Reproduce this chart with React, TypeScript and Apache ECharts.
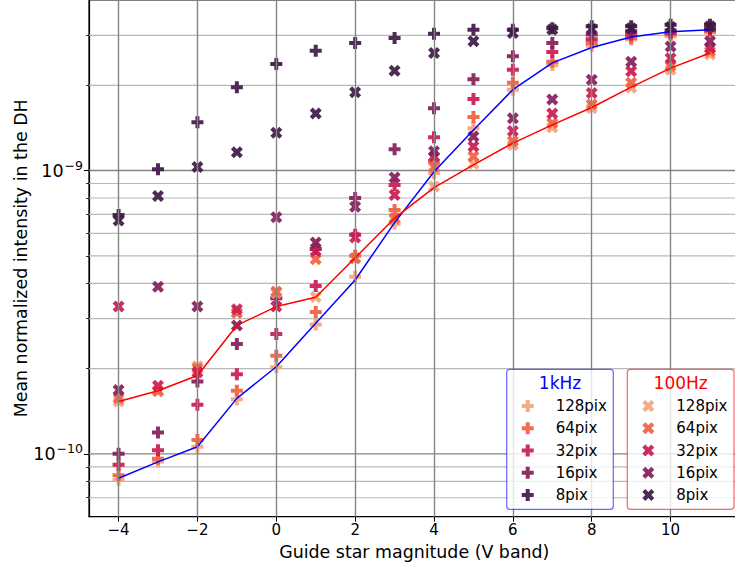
import React, { useEffect, useRef } from 'react';
import * as echarts from 'echarts';

// ---------- data ----------
const magnitudes = [-4, -3, -2, -1, 0, 1, 2, 3, 4, 5, 6, 7, 8, 9, 10, 11];
const pixLabels = ['128pix', '64pix', '32pix', '16pix', '8pix'];
const pixColors = ['#F5A47D', '#EF6142', '#CB1B4F', '#841E5A', '#3D1A45'];

// 1kHz (filled plus markers)
const kHz128 = [8.1e-11, 9.4e-11, 1.06e-10, 1.56e-10, 2.02e-10, 2.86e-10, 4.22e-10, 6.5e-10, 9.8e-10, 1.41e-9, 1.93e-9, 2.36e-9, 2.76e-9, 2.9e-9, 2.98e-9, 3.07e-9];
const kHz64 = [8.4e-11, 9.6e-11, 1.12e-10, 1.67e-10, 2.22e-10, 3.17e-10, 5.0e-10, 7.26e-10, 1.076e-9, 1.545e-9, 2.04e-9, 2.42e-9, 2.82e-9, 2.94e-9, 3.02e-9, 3.1e-9];
const kHz32 = [9.15e-11, 1.03e-10, 1.49e-10, 1.91e-10, 2.65e-10, 3.91e-10, 5.93e-10, 8.9e-10, 1.31e-9, 1.79e-9, 2.27e-9, 2.62e-9, 2.91e-9, 3.02e-9, 3.06e-9, 3.14e-9];
const kHz16 = [1.0e-10, 1.19e-10, 1.8e-10, 2.44e-10, 3.54e-10, 5.29e-10, 8.0e-10, 1.19e-9, 1.66e-9, 2.1e-9, 2.53e-9, 2.82e-9, 3.02e-9, 3.1e-9, 3.12e-9, 3.18e-9];
const kHz8 = [6.97e-10, 1.01e-9, 1.48e-9, 1.97e-9, 2.38e-9, 2.65e-9, 2.82e-9, 2.94e-9, 3.04e-9, 3.14e-9, 3.14e-9, 3.18e-9, 3.23e-9, 3.23e-9, 3.27e-9, 3.27e-9];

// 100Hz (filled x markers)
const hz128 = [1.53e-10, 1.66e-10, 2.04e-10, 3.15e-10, 3.7e-10, 3.58e-10, 4.9e-10, 6.7e-10, 8.78e-10, 1.056e-9, 1.23e-9, 1.42e-9, 1.66e-9, 1.96e-9, 2.27e-9, 2.57e-9];
const hz64 = [1.57e-10, 1.67e-10, 2.0e-10, 3.15e-10, 3.74e-10, 4.86e-10, 4.9e-10, 6.8e-10, 1.03e-9, 1.12e-9, 1.27e-9, 1.47e-9, 1.71e-9, 2.04e-9, 2.34e-9, 2.63e-9];
const hz32 = [3.31e-10, 1.74e-10, 1.94e-10, 3.24e-10, 3.31e-10, 5.2e-10, 5.8e-10, 8.2e-10, 1.12e-9, 1.216e-9, 1.38e-9, 1.59e-9, 1.88e-9, 2.24e-9, 2.49e-9, 2.71e-9];
const hz16 = [1.68e-10, 3.89e-10, 3.31e-10, 2.84e-10, 6.84e-10, 5.57e-10, 7.45e-10, 9.45e-10, 1.17e-9, 1.32e-9, 1.53e-9, 1.78e-9, 2.09e-9, 2.42e-9, 2.74e-9, 2.86e-9];
const hz8 = [6.66e-10, 8.14e-10, 1.03e-9, 1.16e-9, 1.36e-9, 1.59e-9, 1.89e-9, 2.25e-9, 2.6e-9, 2.86e-9, 3.06e-9, 3.15e-9, 3.16e-9, 3.18e-9, 3.21e-9, 3.23e-9];

// mean curves
const kHzCurve = [8.2e-11, 9.37e-11, 1.06e-10, 1.57e-10, 2.03e-10, 2.89e-10, 4.11e-10, 6.55e-10, 9.9e-10, 1.39e-9, 1.93e-9, 2.4e-9, 2.72e-9, 2.96e-9, 3.09e-9, 3.14e-9];
const hzCurve = [1.53e-10, 1.67e-10, 1.89e-10, 2.84e-10, 3.31e-10, 3.57e-10, 4.92e-10, 6.79e-10, 8.71e-10, 1.047e-9, 1.25e-9, 1.45e-9, 1.67e-9, 1.97e-9, 2.3e-9, 2.6e-9];

const xTicks = [-4, -2, 0, 2, 4, 6, 8, 10];
const yMajorTicks = [1e-10, 1e-9];
const yMinorTicks = [7e-11, 8e-11, 9e-11, 2e-10, 3e-10, 4e-10, 5e-10, 6e-10, 7e-10, 8e-10, 9e-10, 2e-9, 3e-9];
const xMin = -4.75;
const xMax = 11.75;
const yMin = 6e-11;
const yMax = 4e-9;

const kHzGroups = [kHz128, kHz64, kHz32, kHz16, kHz8];
const hzGroups = [hz128, hz64, hz32, hz16, hz8];

const PLUS = 'path://M1,0H2V1H3V2H2V3H1V2H0V1H1Z';
const XMARK = 'path://M1,0L2,1L3,0L4,1L3,2L4,3L3,4L2,3L1,4L0,3L1,2L0,1Z';
const FONT = 'DejaVu Sans';

const pairs = (vals: number[]) => magnitudes.map((m, i) => [m, vals[i]]);

export default function App() {
  const ref = useRef<HTMLDivElement>(null);
  useEffect(() => {
    if (!ref.current) return;
    const chart = echarts.init(ref.current, undefined, { renderer: 'svg' });

    const major = { color: '#858585', width: 1.4, type: 'solid' };
    const minor = { color: '#b8b8b8', width: 1.2, type: 'solid' };

    const hLine = (v: number, style: any) => ({
      type: 'line',
      data: [[xMin, v], [xMax, v]],
      symbol: 'none',
      silent: true,
      z: 1,
      lineStyle: style,
      itemStyle: { color: style.color },
      tooltip: { show: false },
    });

    const gridSeries: any[] = [
      ...yMinorTicks.map((v) => hLine(v, minor)),
      ...yMajorTicks.map((v) => hLine(v, major)),
      {
        type: 'line',
        data: [],
        z: 1,
        silent: true,
        markLine: {
          silent: true,
          symbol: ['none', 'none'],
          label: { show: false },
          animation: false,
          data: xTicks.map((v) => ({ xAxis: v, lineStyle: major })),
        },
      },
    ];

    const scatterSeries: any[] = [];
    pixLabels.forEach((p, i) => {
      scatterSeries.push({
        name: '1kHz ' + p,
        type: 'scatter',
        symbol: PLUS,
        symbolSize: 12,
        z: 2,
        itemStyle: { color: pixColors[i], opacity: 0.92 },
        data: pairs(kHzGroups[i]),
      });
    });
    pixLabels.forEach((p, i) => {
      scatterSeries.push({
        name: '100Hz ' + p,
        type: 'scatter',
        symbol: XMARK,
        symbolSize: 12,
        z: 2,
        itemStyle: { color: pixColors[i], opacity: 0.92 },
        data: pairs(hzGroups[i]),
      });
    });

    const lineSeries: any[] = [
      {
        name: '1kHz mean',
        type: 'line',
        data: pairs(kHzCurve),
        symbol: 'none',
        z: 3,
        lineStyle: { color: '#0000ff', width: 1.5 },
        itemStyle: { color: '#0000ff' },
      },
      {
        name: '100Hz mean',
        type: 'line',
        data: pairs(hzCurve),
        symbol: 'none',
        z: 3,
        lineStyle: { color: '#ff0000', width: 1.5 },
        itemStyle: { color: '#ff0000' },
      },
    ];

    const legendText = {
      fontFamily: FONT,
      fontSize: 15,
      color: '#000',
      padding: [0, 0, 0, 17],
    };
    const mkLegend = (prefix: string, icon: string, left: number) => ({
      show: true,
      orient: 'vertical',
      left,
      top: 398.5,
      padding: 0,
      itemWidth: 12,
      itemHeight: 12,
      itemGap: 7.25,
      selectedMode: false,
      z: 10,
      textStyle: legendText,
      formatter: (name: string) => name.split(' ')[1],
      data: pixLabels.map((p) => ({ name: prefix + ' ' + p, icon })),
    });

    chart.setOption({
      animation: false,
      backgroundColor: '#fff',
      textStyle: { fontFamily: FONT },
      grid: {
        left: 89,
        top: 0,
        right: 745 - 739.6,
        bottom: 569 - 516.7,
        containLabel: false,
        outerBoundsMode: 'none',
        show: true,
        borderColor: '#000',
        borderWidth: 1.2,
        backgroundColor: 'transparent',
      },
      xAxis: {
        type: 'value',
        min: xMin,
        max: xMax,
        name: 'Guide star magnitude (V band)',
        nameLocation: 'middle',
        nameGap: 27,
        nameMoveOverlap: false,
        nameTextStyle: { fontFamily: FONT, fontSize: 17.4, color: '#000' },
        axisLine: { show: true, onZero: false, lineStyle: { color: '#000', width: 1.2 } },
        axisTick: { show: true, length: 5, customValues: xTicks, lineStyle: { color: '#000', width: 1 } },
        axisLabel: {
          customValues: xTicks,
          margin: 6,
          fontFamily: FONT,
          fontSize: 15,
          color: '#000',
          formatter: (v: number) => (v < 0 ? '\u2212' + Math.abs(v) : String(v)),
        },
        splitLine: { show: false },
      },
      yAxis: [
        {
          type: 'log',
          logBase: 10,
          min: yMin,
          max: yMax,
          position: 'left',
          name: 'Mean normalized intensity in the DH',
          nameLocation: 'middle',
          nameGap: 60,
          nameMoveOverlap: false,
          nameTextStyle: { fontFamily: FONT, fontSize: 17.4, color: '#000' },
          axisLine: { show: true, onZero: false, lineStyle: { color: '#000', width: 1.2 } },
          axisTick: { show: true, length: 5, customValues: yMajorTicks, lineStyle: { color: '#000', width: 1 } },
          axisLabel: {
            customValues: yMajorTicks,
            margin: 6,
            color: '#000',
            formatter: (v: number) => {
              const e = Math.round(Math.log10(v));
              return '{b|10}{s|\u2212' + Math.abs(e) + '}';
            },
            rich: {
              b: { fontFamily: FONT, fontSize: 17.5, color: '#000' },
              s: { fontFamily: FONT, fontSize: 12.5, color: '#000', padding: [0, 0, 10, 1] },
            },
          },
          splitLine: { show: false },
        },
        {
          type: 'log',
          logBase: 10,
          min: yMin,
          max: yMax,
          position: 'left',
          axisLine: { show: false, onZero: false },
          axisLabel: { show: false },
          axisTick: { show: true, length: 3, customValues: yMinorTicks, lineStyle: { color: '#000', width: 0.8 } },
          splitLine: { show: false },
        },
      ],
      legend: [mkLegend('1kHz', PLUS, 521.7), mkLegend('100Hz', XMARK, 642.3)],
      graphic: [
        {
          type: 'rect',
          z: 8,
          silent: true,
          shape: { x: 506.7, y: 369.3, width: 106.6, height: 140, r: 3 },
          style: { fill: 'rgba(255,255,255,0.8)', stroke: 'rgba(0,0,255,0.6)', lineWidth: 1.2 },
        },
        {
          type: 'rect',
          z: 8,
          silent: true,
          shape: { x: 627.3, y: 369.3, width: 106.7, height: 140, r: 3 },
          style: { fill: 'rgba(255,255,255,0.8)', stroke: 'rgba(255,0,0,0.6)', lineWidth: 1.2 },
        },
        {
          type: 'text',
          z: 9,
          silent: true,
          x: 560,
          y: 383,
          style: { text: '1kHz', fill: '#0000ff', font: '17px "DejaVu Sans"', align: 'center', verticalAlign: 'middle' },
        },
        {
          type: 'text',
          z: 9,
          silent: true,
          x: 680.7,
          y: 383,
          style: { text: '100Hz', fill: '#ff0000', font: '17px "DejaVu Sans"', align: 'center', verticalAlign: 'middle' },
        },
      ],
      series: [...gridSeries, ...scatterSeries, ...lineSeries],
    });

    return () => chart.dispose();
  }, []);

  return (
    <div style={{ position: 'fixed', left: 0, top: 0, width: 735, height: 569, overflow: 'hidden', background: '#fff' }}>
      <div ref={ref} style={{ width: 745, height: 569 }} />
    </div>
  );
}
